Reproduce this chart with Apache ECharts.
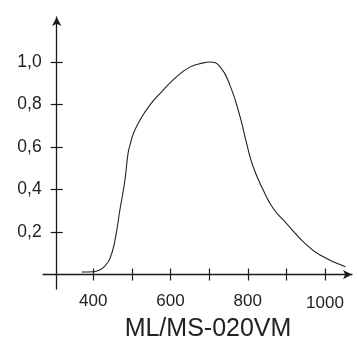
<!DOCTYPE html>
<html><head><meta charset="utf-8">
<script src="https://cdn.jsdelivr.net/npm/echarts@6/dist/echarts.min.js"></script>
<style>html,body{margin:0;padding:0;background:#fff}#c{width:357px;height:347px}</style>
</head><body><div id="c"></div>
<script>
const wavelengths = [370,400,415,430,443,456,469,482,490,496,504,521,547,577,611,650,685,702,728,754,780,797,814,840,866,900,944,987,1053];
const response    = [0.012,0.013,0.02,0.04,0.075,0.16,0.305,0.445,0.57,0.615,0.664,0.727,0.798,0.86,0.923,0.976,0.996,1.0,0.978,0.89,0.743,0.617,0.507,0.398,0.311,0.241,0.154,0.092,0.037];
const xTickValues = [400,500,600,700,800,900,1000];
const xLabelValues = [400,600,800,1000];
const yTickValues = [0.2,0.4,0.6,0.8,1.0];
const titleText = 'ML/MS-020VM';

const FONT = '"Liberation Sans", Arial, sans-serif';
const INK = '#1a1a1a';
const X_MIN = 269.8, X_MAX = 1069.9, Y_MIN = -0.068, Y_MAX = 1.2118;

const chart = echarts.init(document.getElementById('c'), null, {renderer:'canvas'});
chart.setOption({
  animation:false,
  backgroundColor:'#fff',
  grid:{left:43, right:5, top:17, bottom:58, containLabel:false},
  xAxis:[{
    type:'value', min:X_MIN, max:X_MAX, position:'bottom',
    axisLine:{show:true, onZero:true, onZeroAxisIndex:0, symbol:['none','arrow'], symbolSize:[7,9], lineStyle:{color:INK, width:1.3}},
    axisTick:{show:true, customValues:xTickValues, length:6, lineStyle:{color:INK, width:1.2}},
    axisLabel:{show:true, customValues:xLabelValues, margin:3.5, fontFamily:FONT, fontSize:17, color:'#222',
      formatter:function(v){ return v===1000 ? '{b|1000}' : String(v); },
      rich:{b:{fontFamily:FONT, fontSize:17, color:'#222', padding:[2,0,0,0]}}},
    splitLine:{show:false}
  },{
    type:'value', min:X_MIN, max:X_MAX, position:'bottom',
    axisLine:{show:false, onZero:true, onZeroAxisIndex:0},
    axisTick:{show:true, inside:true, customValues:xTickValues, length:6, lineStyle:{color:INK, width:1.2}},
    axisLabel:{show:false}, splitLine:{show:false}
  }],
  yAxis:[{
    type:'value', min:Y_MIN, max:Y_MAX, position:'left', offset:-13.7,
    axisLine:{show:true, onZero:false, symbol:['none','arrow'], symbolSize:[7,9], lineStyle:{color:INK, width:1.3}},
    axisTick:{show:true, customValues:yTickValues, length:6, lineStyle:{color:INK, width:1.2}},
    axisLabel:{show:true, customValues:yTickValues, margin:15, fontFamily:FONT, fontSize:17.5, color:'#222',
      formatter:function(v){ return v.toFixed(1).replace('.', ','); }},
    splitLine:{show:false}
  },{
    type:'value', min:Y_MIN, max:Y_MAX, position:'left', offset:-13.7,
    axisLine:{show:false, onZero:false},
    axisTick:{show:true, inside:true, customValues:yTickValues, length:6, lineStyle:{color:INK, width:1.2}},
    axisLabel:{show:false}, splitLine:{show:false}
  }],
  graphic:[{type:'text', x:208, y:329, style:{text:titleText, font:'25px '+FONT, fill:'#222', textAlign:'center', textVerticalAlign:'middle'}}],
  series:[{
    type:'line', xAxisIndex:0, yAxisIndex:0,
    data: wavelengths.map((w,i)=>[w, response[i]]),
    showSymbol:false, smooth:0.5,
    lineStyle:{color:'#222', width:1.1}
  }]
});
</script></body></html>
